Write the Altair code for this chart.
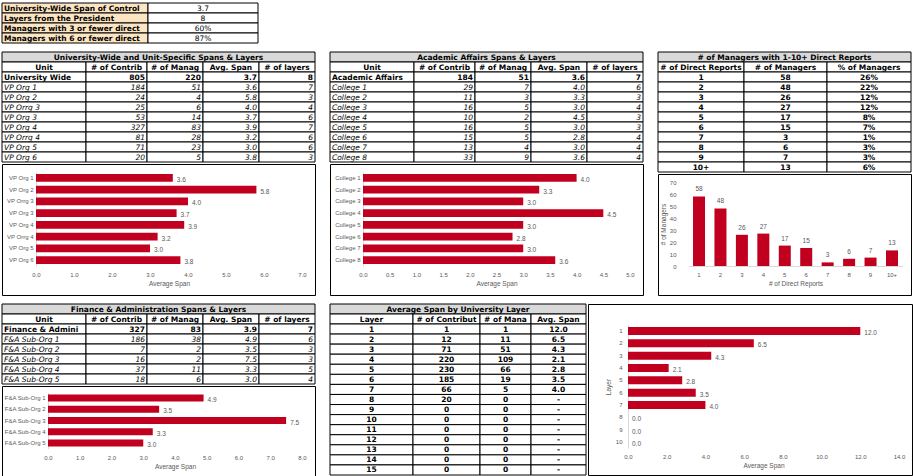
import altair as alt
import pandas as pd

# ---------------- data ----------------
summary_labels = ["University-Wide Span of Control", "Layers from the President",
                  "Managers with 3 or fewer direct reports", "Managers with 6 or fewer direct reports"]
summary_values = ["3.7", "8", "60%", "87%"]

uw_units = ["University Wide", "VP Org 1", "VP Org 2", "VP Orrg 3", "VP Org 3", "VP Org 4",
            "VP Orrg 4", "VP Org 5", "VP Org 6"]
uw_contrib = [805, 184, 24, 25, 53, 327, 81, 71, 20]
uw_mgrs = [220, 51, 4, 6, 14, 83, 28, 23, 5]
uw_span = [3.7, 3.6, 5.8, 4.0, 3.7, 3.9, 3.2, 3.0, 3.8]
uw_layers = [8, 7, 3, 4, 6, 7, 6, 6, 3]
uw_ticks = [0, 1, 2, 3, 4, 5, 6, 7]

aa_units = ["Academic Affairs", "College 1", "College 2", "College 3", "College 4", "College 5",
            "College 6", "College 7", "College 8"]
aa_contrib = [184, 29, 11, 16, 10, 16, 15, 13, 33]
aa_mgrs = [51, 7, 3, 5, 2, 5, 5, 4, 9]
aa_span = [3.6, 4.0, 3.3, 3.0, 4.5, 3.0, 2.8, 3.0, 3.6]
aa_layers = [7, 6, 3, 4, 3, 3, 4, 4, 4]
aa_ticks = [0, 0.5, 1, 1.5, 2, 2.5, 3, 3.5, 4, 4.5, 5]

dr_labels = ["1", "2", "3", "4", "5", "6", "7", "8", "9", "10+"]
dr_mgrs = [58, 48, 26, 27, 17, 15, 3, 6, 7, 13]
dr_pct = ["26%", "22%", "12%", "12%", "8%", "7%", "1%", "3%", "3%", "6%"]
dr_ticks = [0, 10, 20, 30, 40, 50, 60, 70]

fa_units = ["Finance & Administration", "F&A Sub-Org 1", "F&A Sub-Org 2", "F&A Sub-Org 3",
            "F&A Sub-Org 4", "F&A Sub-Org 5"]
fa_contrib = [327, 186, 7, 16, 37, 18]
fa_mgrs = [83, 38, 2, 2, 11, 6]
fa_span = [3.9, 4.9, 3.5, 7.5, 3.3, 3.0]
fa_layers = [7, 6, 3, 3, 5, 4]
fa_ticks = [0, 1, 2, 3, 4, 5, 6, 7, 8]

layer_ids = [str(i) for i in range(1, 16)]
layer_contrib = [1, 12, 71, 220, 230, 185, 66, 20, 0, 0, 0, 0, 0, 0, 0]
layer_mgrs = [1, 11, 51, 109, 66, 19, 5, 0, 0, 0, 0, 0, 0, 0, 0]
layer_span = ["12.0", "6.5", "4.3", "2.1", "2.8", "3.5", "4.0", "-", "-", "-", "-", "-", "-", "-", "-"]
chart_layers = ["1", "2", "3", "4", "5", "6", "7", "8", "9", "10"]
chart_layer_span = [12.0, 6.5, 4.3, 2.1, 2.8, 3.5, 4.0, 0.0, 0.0, 0.0]
layer_ticks = [0, 2, 4, 6, 8, 10, 12, 14]

# ---------------- style ----------------
RED = "#C0001E"
GRAY = "#595959"
AXIS_GRAY = "#D9D9D9"
TFONT = "DejaVu Sans"
TSIZE = 7.5
CFONT = "Liberation Sans"
CSIZE = 6
HEAD_FILL = "#D9D9D9"
BEIGE = "#FBE5C2"


def cell(cells, x0, x1, y0, y1, text, fill="white", align="center", weight="bold",
         style="normal", pad=2):
    if align == "left":
        tx = x0 + pad
    elif align == "right":
        tx = x1 - pad
    else:
        tx = (x0 + x1) / 2
    cells.append(dict(x0=x0, x1=x1, y0=y0, y1=y1, text=text, fill=fill, tx=tx,
                      ty=(y0 + y1) / 2 + 0.5, key=f"{align}|{weight}|{style}|{x1 - x0 - 2 * pad}"))


def table_chart(cells, W, H):
    df = pd.DataFrame(cells)
    xs = alt.Scale(domain=[0, W], range=[0, W], nice=False, zero=False)
    ys = alt.Scale(domain=[0, H], range=[0, H], nice=False, zero=False)
    rects = alt.Chart(df).mark_rect(stroke="black", strokeWidth=1).encode(
        x=alt.X("x0:Q", scale=xs, axis=None), x2="x1:Q",
        y=alt.Y("y0:Q", scale=ys, axis=None), y2="y1:Q",
        fill=alt.Fill("fill:N", scale=None))
    layers = [rects]
    for key, sub in df.groupby("key"):
        align, weight, style, lim = key.split("|")
        layers.append(
            alt.Chart(sub).mark_text(align=align, baseline="middle", font=TFONT, fontSize=TSIZE,
                                     fontWeight=weight, fontStyle=style, limit=float(lim),
                                     ellipsis=" ", color="black").encode(
                x=alt.X("tx:Q", scale=xs, axis=None), y=alt.Y("ty:Q", scale=ys, axis=None),
                text="text:N"))
    return alt.layer(*layers).properties(width=W, height=H,
                                         view=alt.ViewBackground(stroke="transparent"))


def unit_table(title, units, contrib, mgrs, span, lays, W, edges, rh):
    cells = []
    cell(cells, 0, W, 0, rh, title, fill=HEAD_FILL)
    heads = ["Unit", "# of Contributors", "# of Managers", "Avg. Span", "# of layers"]
    for i, h in enumerate(heads):
        cell(cells, edges[i], edges[i + 1], rh, 2 * rh, h)
    for r, (u, c, m, s, l) in enumerate(zip(units, contrib, mgrs, span, lays)):
        y0 = rh * (2 + r)
        w, st = ("bold", "normal") if r == 0 else ("normal", "italic")
        vals = [u, str(c), str(m), f"{s:.1f}", str(l)]
        for i, v in enumerate(vals):
            cell(cells, edges[i], edges[i + 1], y0, y0 + rh, v,
                 align="left" if i == 0 else "right", weight=w, style=st)
    return table_chart(cells, W, rh * (2 + len(units)))


def hbar(cats, vals, ticks, W, H, xr, yr, pin, axis_y, ytitle=None, ylabpad=3, ytitlepad=3):
    df = pd.DataFrame({"cat": cats, "v": vals})
    xs = alt.Scale(domain=[ticks[0], ticks[-1]], range=xr, nice=False)
    ys = alt.Scale(range=yr, paddingInner=pin, paddingOuter=pin / 2)
    xaxis = alt.Axis(orient="bottom", offset=-(H - axis_y), values=ticks, format=".1f",
                     domain=False, ticks=False, tickSize=0, grid=False, labelPadding=2,
                     labelFont=CFONT, labelFontSize=CSIZE, labelColor=GRAY, labelFlush=False,
                     labelOverlap=False, title="Average Span", titleFont=CFONT,
                     titleFontSize=6.5, titleFontWeight="normal", titleColor=GRAY,
                     titlePadding=3)
    yargs = dict(orient="left", offset=-xr[0], domain=True, domainColor=AXIS_GRAY,
                 ticks=False, tickSize=0, grid=False, labelPadding=ylabpad, labelFont=CFONT,
                 labelFontSize=CSIZE, labelColor=GRAY, labelOverlap=False)
    if ytitle:
        yargs.update(title=ytitle, titleFont=CFONT, titleFontSize=6.5, titleFontWeight="normal",
                     titleColor=GRAY, titlePadding=ytitlepad)
    else:
        yargs.update(title="")
    yaxis = alt.Axis(**yargs)
    bars = alt.Chart(df).mark_bar(color=RED).encode(
        x=alt.X("v:Q", scale=xs, axis=xaxis),
        y=alt.Y("cat:N", scale=ys, sort=cats, axis=yaxis))
    labels = alt.Chart(df).mark_text(align="left", baseline="middle", dx=4, dy=2, font=CFONT,
                                     fontSize=6.5, color=GRAY).encode(
        x=alt.X("v:Q", scale=xs, axis=xaxis), y=alt.Y("cat:N", scale=ys, sort=cats, axis=yaxis),
        text=alt.Text("v:Q", format=".1f"))
    return alt.layer(bars, labels).properties(
        width=W, height=H, view=alt.ViewBackground(stroke="black", strokeWidth=1))


# ---------------- summary table ----------------
sc = []
for r, (lab, val) in enumerate(zip(summary_labels, summary_values)):
    cell(sc, 0, 146, r * 10, r * 10 + 10, lab, fill=BEIGE, align="left")
    cell(sc, 146, 256, r * 10, r * 10 + 10, val, weight="normal")
summary = table_chart(sc, 256, 40)

# ---------------- panel 1 ----------------
EDGES = [0, 84, 145, 201, 257, 313]
t1 = unit_table("University-Wide and Unit-Specific Spans & Layers", uw_units, uw_contrib, uw_mgrs,
                uw_span, uw_layers, 313, EDGES, 10)
c1 = hbar(uw_units[1:], uw_span[1:], uw_ticks, 313, 131, [34, 300], [8, 102], 0.36, 105)
p1 = alt.vconcat(t1, c1, spacing=0)

# ---------------- panel 2 ----------------
t2 = unit_table("Academic Affairs Spans & Layers", aa_units, aa_contrib, aa_mgrs, aa_span,
                aa_layers, 313, EDGES, 10)
c2 = hbar(aa_units[1:], aa_span[1:], aa_ticks, 313, 131, [33, 300], [8, 102], 0.36, 105)
p2 = alt.vconcat(t2, c2, spacing=0)

# ---------------- panel 3 ----------------
c3cells = []
E3 = [0, 86, 169, 253]
cell(c3cells, 0, 253, 0, 10, "# of Managers with 1-10+ Direct Reports", fill=HEAD_FILL)
for i, h in enumerate(["# of Direct Reports", "# of Managers", "% of Managers"]):
    cell(c3cells, E3[i], E3[i + 1], 10, 20, h)
for r, (a, b, c) in enumerate(zip(dr_labels, dr_mgrs, dr_pct)):
    for i, v in enumerate([a, str(b), c]):
        cell(c3cells, E3[i], E3[i + 1], 20 + 10 * r, 30 + 10 * r, v)
t3 = table_chart(c3cells, 253, 120)

df3 = pd.DataFrame({"dr": dr_labels, "m": dr_mgrs})
x3 = alt.Scale(range=[30.3, 244.7], paddingInner=0.44, paddingOuter=0.22)
y3 = alt.Scale(domain=[0, 70], range=[92, 8], nice=False)
x3axis = alt.Axis(orient="bottom", offset=-29, domain=True, domainColor=AXIS_GRAY,
                  ticks=False, tickSize=0, grid=False, labelAngle=0, labelPadding=5,
                  labelFont=CFONT, labelFontSize=CSIZE, labelColor=GRAY,
                  title="# of Direct Reports", titleFont=CFONT, titleFontSize=6.5,
                  titleFontWeight="normal", titleColor=GRAY, titlePadding=3)
y3axis = alt.Axis(orient="left", offset=-22, domain=False, ticks=False, tickSize=0,
                  grid=False, values=dr_ticks, labelPadding=4, labelOverlap=False,
                  labelFont=CFONT, labelFontSize=CSIZE, labelColor=GRAY, title="# of Managers",
                  titleFont=CFONT, titleFontSize=6.5, titleFontWeight="normal",
                  titleColor=GRAY, titlePadding=3)
bars3 = alt.Chart(df3).mark_bar(color=RED).encode(
    x=alt.X("dr:N", sort=dr_labels, scale=x3, axis=x3axis),
    y=alt.Y("m:Q", scale=y3, axis=y3axis))
lab3 = alt.Chart(df3).mark_text(baseline="bottom", dy=-4, font=CFONT, fontSize=6.5,
                                color=GRAY).encode(
    x=alt.X("dr:N", sort=dr_labels, scale=x3, axis=x3axis),
    y=alt.Y("m:Q", scale=y3, axis=y3axis), text="m:Q")
c3 = alt.layer(bars3, lab3).properties(width=253, height=121,
                                       view=alt.ViewBackground(stroke="black", strokeWidth=1))
p3 = alt.vconcat(t3, c3, spacing=0)

# ---------------- panel 4 ----------------
t4 = unit_table("Finance & Administration Spans & Layers", fa_units, fa_contrib, fa_mgrs, fa_span,
                fa_layers, 313, EDGES, 10)
c4 = hbar(fa_units[1:], fa_span[1:], fa_ticks, 313, 91, [46, 300], [6.4, 62.6], 0.38, 66)
p4 = alt.vconcat(t4, c4, spacing=0)

# ---------------- panel 5 ----------------
c5cells = []
E5 = [0, 83, 150, 201, 256]
RH5 = 151 / 15
cell(c5cells, 0, 256, 0, 10, "Average Span by University Layer", fill=HEAD_FILL)
for i, h in enumerate(["Layer", "# of Contributors", "# of Managers", "Avg. Span"]):
    cell(c5cells, E5[i], E5[i + 1], 10, 20, h)
for r, (a, b, c, d) in enumerate(zip(layer_ids, layer_contrib, layer_mgrs, layer_span)):
    for i, v in enumerate([a, str(b), str(c), d]):
        cell(c5cells, E5[i], E5[i + 1], 20 + RH5 * r, 20 + RH5 * (r + 1), v)
t5 = table_chart(c5cells, 256, 171)
c5 = hbar(chart_layers, chart_layer_span, layer_ticks, 324, 171, [40, 311], [20.8, 144.2], 0.35,
          147, ytitle="Layer", ylabpad=6, ytitlepad=4)
p5 = alt.hconcat(t5, c5, spacing=0)

rowB = alt.hconcat(p1, p2, p3, spacing=13)
rowC = alt.hconcat(p4, p5, spacing=13)

chart = alt.vconcat(summary, rowB, rowC, spacing=7).properties(
    padding={"left": 1, "top": 2, "right": 0, "bottom": 0}
).configure_view(stroke="transparent")

chart.save("out.html", embed_options={"renderer": "svg", "actions": False})
